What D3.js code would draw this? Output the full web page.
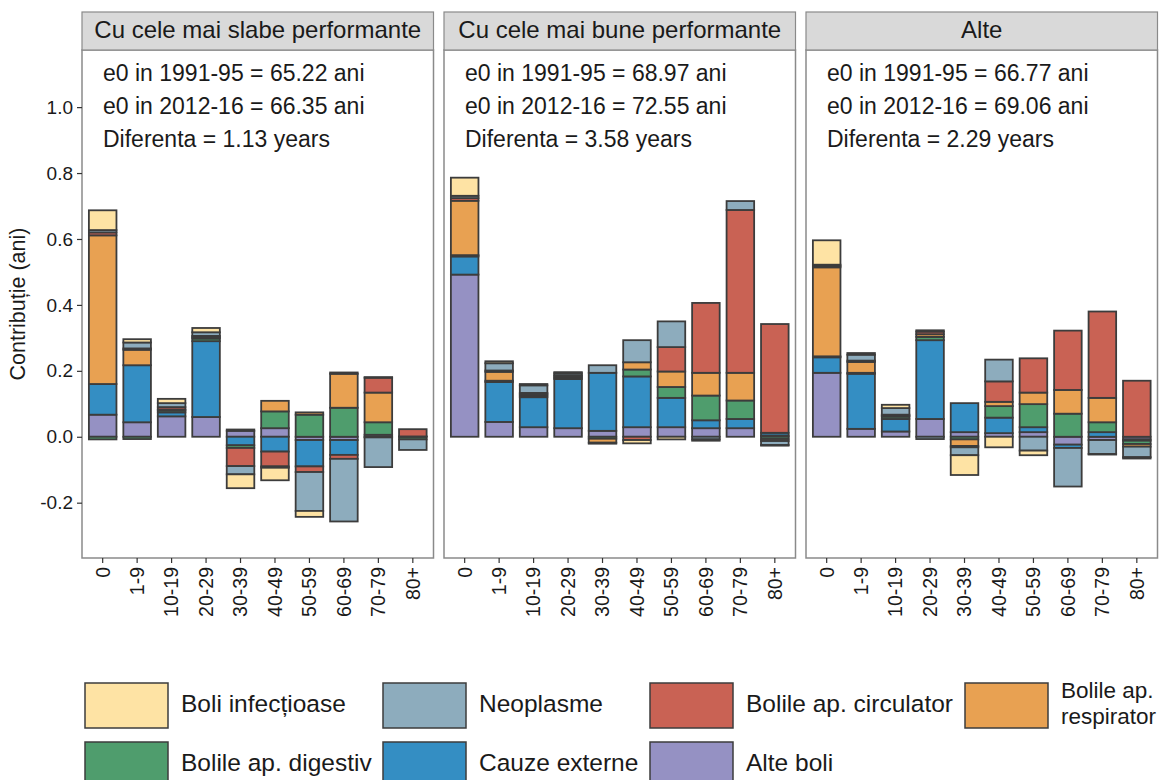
<!DOCTYPE html>
<html>
<head>
<meta charset="utf-8">
<script src="https://cdn.jsdelivr.net/npm/d3@7"></script>
<style>
  body { margin: 0; background: #fff; }
  svg text { font-family: "Liberation Sans", Arial, sans-serif; fill: #1a1a1a; }
</style>
</head>
<body>
<svg id="chart" width="1164" height="780"></svg>
<script>
const ageGroups = ["0", "1-9", "10-19", "20-29", "30-39", "40-49", "50-59", "60-69", "70-79", "80+"];
const panelTitles = ["Cu cele mai slabe performante", "Cu cele mai bune performante", "Alte"];
const causes = ["Boli infecțioase", "Neoplasme", "Bolile ap. circulator", "Bolile ap. respirator", "Bolile ap. digestiv", "Cauze externe", "Alte boli"];
const causeColors = ["#FEE3A4", "#8DACBD", "#C96254", "#E8A152", "#4F9D6D", "#348EC3", "#9591C3"];

const panelNotes = [
    ["e0 in 1991-95 = 65.22 ani", "e0 in 2012-16 = 66.35 ani", "Diferenta = 1.13 years"],
    ["e0 in 1991-95 = 68.97 ani", "e0 in 2012-16 = 72.55 ani", "Diferenta = 3.58 years"],
    ["e0 in 1991-95 = 66.77 ani", "e0 in 2012-16 = 69.06 ani", "Diferenta = 2.29 years"],
];

// rows follow causes order, columns follow ageGroups
const worstValues = [
    [0.060, 0.010, 0.013, 0.013, -0.042, -0.038, -0.018, 0.004, 0.002, 0.000],
    [0.007, 0.018, 0.012, 0.011, -0.025, -0.004, -0.118, -0.190, -0.090, -0.032],
    [0.009, 0.004, 0.007, 0.004, -0.055, -0.045, -0.017, -0.012, 0.045, 0.022],
    [0.451, 0.047, 0.003, 0.004, 0.004, 0.032, 0.007, 0.103, 0.090, 0.001],
    [-0.008, -0.007, 0.006, 0.008, -0.008, 0.051, 0.067, 0.088, 0.038, -0.008],
    [0.093, 0.173, 0.012, 0.230, -0.026, -0.045, -0.080, -0.045, -0.002, 0.000],
    [0.067, 0.044, 0.062, 0.060, 0.018, 0.026, -0.010, -0.010, 0.006, 0.000],
];
const bestValues = [
    [0.055, 0.006, 0.004, 0.003, -0.003, -0.010, -0.008, -0.004, 0.000, -0.002],
    [0.007, 0.022, 0.023, 0.006, 0.023, 0.067, 0.078, -0.008, 0.027, -0.012],
    [0.008, 0.004, 0.004, 0.004, 0.000, -0.010, 0.074, 0.212, 0.494, 0.330],
    [0.165, 0.027, 0.004, 0.004, -0.012, 0.022, 0.047, 0.069, 0.084, -0.006],
    [0.004, 0.004, 0.005, 0.004, -0.006, 0.021, 0.033, 0.075, 0.056, -0.007],
    [0.055, 0.121, 0.091, 0.149, 0.176, 0.154, 0.089, 0.024, 0.028, 0.008],
    [0.492, 0.045, 0.029, 0.026, 0.018, 0.029, 0.029, 0.026, 0.026, 0.004],
];
const otherValues = [
    [0.074, 0.005, 0.010, 0.004, -0.060, -0.032, -0.014, 0.000, -0.002, -0.004],
    [0.004, 0.018, 0.020, -0.007, -0.024, 0.066, -0.042, -0.117, -0.042, -0.032],
    [0.004, 0.004, 0.003, 0.008, -0.004, 0.062, 0.104, 0.180, 0.262, 0.170],
    [0.270, 0.033, 0.003, 0.008, -0.020, 0.013, 0.035, 0.072, 0.074, -0.008],
    [0.003, 0.003, 0.007, 0.010, -0.008, 0.035, 0.070, 0.070, 0.030, -0.010],
    [0.047, 0.167, 0.038, 0.239, 0.088, 0.047, 0.015, -0.010, 0.014, -0.004],
    [0.194, 0.024, 0.016, 0.054, 0.014, 0.011, 0.014, -0.024, -0.010, -0.008],
];
const yTicks = [-0.2, 0.0, 0.2, 0.4, 0.6, 0.8, 1.0];

const panelValues = [worstValues, bestValues, otherValues];

const svg = d3.select("#chart");
const panelX = [82, 444, 806];
const panelW = 351.5;
const plotTop = 50, plotBottom = 558;
const outline = "#3c3c3c";
const fmt = d3.format(".1f");

const y = d3.scaleLinear().domain([-0.3678, 1.1733]).range([plotBottom, plotTop]);
const x = d3.scaleBand().domain(ageGroups).range([0, panelW]).paddingInner(0.2).paddingOuter(0.2);

// alte boli first so it sits next to zero on both sides
const stackKeys = causes.slice().reverse();
const stack = d3.stack().keys(stackKeys).offset(d3.stackOffsetDiverging);

panelValues.forEach((vals, p) => {
    const g = svg.append("g").attr("transform", `translate(${panelX[p]},0)`);

    const rows = ageGroups.map((age, i) => {
        const row = { age: age };
        causes.forEach((c, k) => { row[c] = vals[k][i]; });
        return row;
    });
    const series = stack(rows);

    series.forEach((s) => {
        const color = causeColors[causes.indexOf(s.key)];
        g.selectAll(null).data(s.filter((d) => d[1] - d[0] !== 0)).enter().append("rect")
            .attr("x", (d) => x(d.data.age))
            .attr("width", x.bandwidth())
            .attr("y", (d) => y(Math.max(d[0], d[1])))
            .attr("height", (d) => Math.abs(y(d[0]) - y(d[1])))
            .attr("fill", color)
            .attr("stroke", outline)
            .attr("stroke-width", 1.8);
    });

    // annotations
    panelNotes[p].forEach((t, i) => {
        g.append("text").attr("x", 21).attr("y", 75 + i * 33)
            .attr("dominant-baseline", "middle")
            .style("font-size", "23px").text(t);
    });

    // panel border
    g.append("rect").attr("x", 0).attr("y", plotTop).attr("width", panelW).attr("height", plotBottom - plotTop)
        .attr("fill", "none").attr("stroke", "#8a8a8a").attr("stroke-width", 1.5);

    // strip
    g.append("rect").attr("x", 0).attr("y", 12).attr("width", panelW).attr("height", plotTop - 12)
        .attr("fill", "#D9D9D9").attr("stroke", "#8a8a8a").attr("stroke-width", 1.2);
    g.append("text").attr("x", panelW / 2).attr("y", 32)
        .attr("text-anchor", "middle").attr("dominant-baseline", "middle")
        .style("font-size", "24px").text(panelTitles[p]);

    // x axis
    const xAxis = g.append("g").attr("transform", `translate(0,${plotBottom})`)
        .call(d3.axisBottom(x).tickSize(5).tickSizeOuter(0));
    xAxis.select(".domain").remove();
    xAxis.selectAll(".tick line").attr("stroke", "#333").attr("stroke-width", 1.2);
    xAxis.selectAll(".tick text")
        .attr("transform", "rotate(-90)")
        .attr("x", -9).attr("y", 0).attr("dy", "0.35em")
        .attr("text-anchor", "end")
        .style("font-size", "19.5px").style("font-family", "Liberation Sans, Arial, sans-serif")
        .attr("fill", "#1a1a1a");

    if (p === 0) {
        const yAxis = g.append("g")
            .call(d3.axisLeft(y).tickValues(yTicks).tickFormat((d) => fmt(d).replace("−", "-")).tickSize(5).tickSizeOuter(0));
        yAxis.select(".domain").remove();
        yAxis.selectAll(".tick line").attr("stroke", "#333").attr("stroke-width", 1.2);
        yAxis.selectAll(".tick text")
            .attr("x", -9)
            .style("font-size", "19px").style("font-family", "Liberation Sans, Arial, sans-serif")
            .attr("fill", "#1a1a1a");
    }
});

// y axis title
svg.append("text")
    .attr("transform", `translate(25,${(plotTop + plotBottom) / 2}) rotate(-90)`)
    .attr("text-anchor", "middle")
    .style("font-size", "21.5px").text("Contribuție (ani)");

// legend
const legendCols = [85, 383, 650, 965];
const legendRows = [683, 742];
const legend = svg.append("g");
causes.forEach((c, i) => {
    const col = i % 4, row = Math.floor(i / 4);
    const lx = legendCols[col], ly = legendRows[row];
    legend.append("rect").attr("x", lx).attr("y", ly).attr("width", 83).attr("height", 45)
        .attr("fill", causeColors[i]).attr("stroke", outline).attr("stroke-width", 1.5);
    const lines = c === "Bolile ap. respirator" ? ["Bolile ap.", "respirator"] : [c];
    const size = lines.length > 1 ? 22.5 : 24.5;
    lines.forEach((t, j) => {
        legend.append("text").attr("x", lx + 96)
            .attr("y", ly + 22.5 + (j - (lines.length - 1) / 2) * 26)
            .attr("dominant-baseline", "middle")
            .style("font-size", size + "px").text(t);
    });
});
</script>
</body>
</html>
